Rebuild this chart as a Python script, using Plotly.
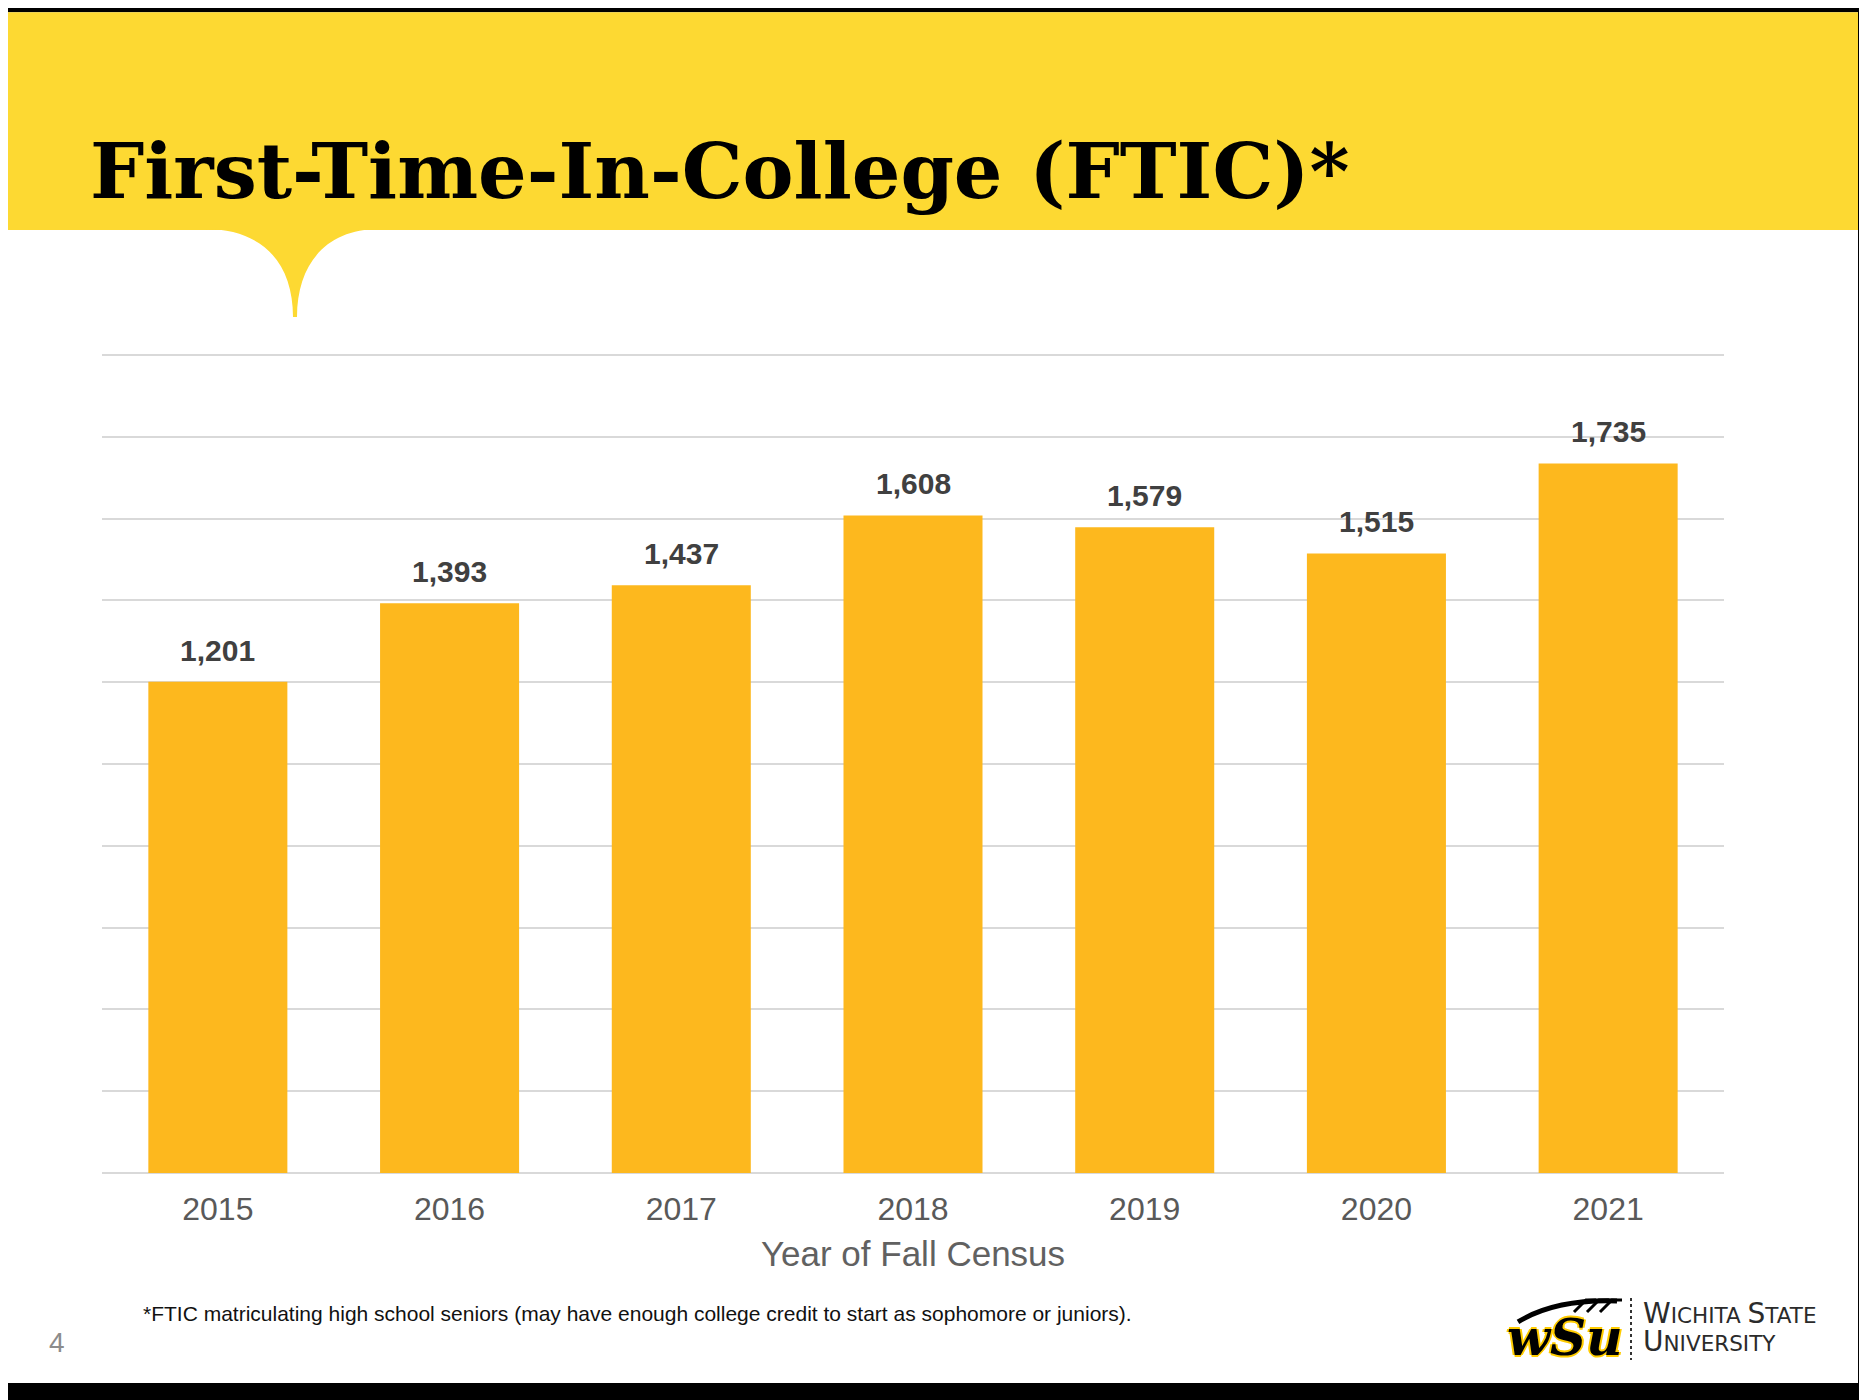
import plotly.graph_objects as go

# ---- data ----
years = ["2015", "2016", "2017", "2018", "2019", "2020", "2021"]
ftic = [1201, 1393, 1437, 1608, 1579, 1515, 1735]
value_labels = ["1,201", "1,393", "1,437", "1,608", "1,579", "1,515", "1,735"]
title_text = "First-Time-In-College (FTIC)*"
x_title = "Year of Fall Census"
footnote = "*FTIC matriculating high school seniors (may have enough college credit to start as sophomore or juniors)."
page_no = "4"

W, H = 1867, 1400
OFF = 8                                # page offset of the figure (body margin)
YMAX = 2010
L, R, B = 102, 1724, 1173              # plot area in page pixels
T = B - (B - 355) * YMAX / 2000


def px(x):
    return (x - L) / (R - L)


def py(y):
    return (B - y) / (B - T)


YELLOW = "#FDD932"
BAR = "#FDB81E"

fig = go.Figure()
fig.add_trace(go.Bar(
    x=list(range(len(years))), y=ftic,
    marker=dict(color=BAR, line=dict(width=0)),
    hovertext=years, hoverinfo="text+y",
))

annotations = []
for i, (v, lab) in enumerate(zip(ftic, value_labels)):
    annotations.append(dict(
        x=i, y=v, xref="x", yref="y", text=lab, showarrow=False,
        yanchor="bottom", yshift=13,
        font=dict(family="Liberation Sans, Arial, sans-serif", size=30, color="#404040", weight="bold"),
    ))

# title
annotations.append(dict(
    x=px(88), y=py(171), xref="paper", yref="paper", text="<b>" + title_text + "</b>",
    showarrow=False, xanchor="left", yanchor="middle",
    font=dict(family="DejaVu Serif, Georgia, serif", size=76.5, color="#000000"),
))
# footnote
annotations.append(dict(
    x=px(141), y=py(1314), xref="paper", yref="paper", text=footnote,
    showarrow=False, xanchor="left", yanchor="middle",
    font=dict(family="Liberation Sans, Arial, sans-serif", size=21, color="#111111"),
))
# page number
annotations.append(dict(
    x=px(57), y=py(1343), xref="paper", yref="paper", text=page_no,
    showarrow=False, xanchor="center", yanchor="middle",
    font=dict(family="Liberation Sans, Arial, sans-serif", size=28, color="#8c8c8c"),
))
# logo wordmark (two lines, small caps)
annotations.append(dict(
    x=px(1641), y=py(1328), xref="paper", yref="paper",
    text=("<span style='font-size:28px'>W</span>ICHITA <span style='font-size:28px'>S</span>TATE<br>"
          "<span style='font-size:28px'>U</span>NIVERSITY"),
    showarrow=False, xanchor="left", yanchor="middle", align="left",
    font=dict(family="DejaVu Sans, sans-serif", size=21.5, color="#2b2b2b"),
))
# logo mark
annotations.append(dict(
    x=px(1565), y=py(1338), xref="paper", yref="paper",
    text="<b><i>wSu</i></b>",
    showarrow=False, xanchor="center", yanchor="middle",
    font=dict(family="DejaVu Serif, serif", size=50, color="#000000",
              shadow="2px 0 0 #FFCC00, -2px 0 0 #FFCC00, 0 2px 0 #FFCC00, 0 -2px 0 #FFCC00"),
))

shapes = [
    # white slide on black frame
    dict(type="rect", xref="paper", yref="paper", x0=px(8), x1=px(1858), y0=py(12), y1=py(1383),
         fillcolor="white", line=dict(width=0), layer="below"),
    # yellow banner
    dict(type="rect", xref="paper", yref="paper", x0=px(8), x1=px(1858), y0=py(12), y1=py(230),
         fillcolor=YELLOW, line=dict(width=0), layer="below"),
    # banner drip
    dict(type="path", xref="paper", yref="paper",
         path=(f"M {px(205)} {py(229)} C {px(262)} {py(229)}, {px(293)} {py(262)}, {px(293)} {py(317)} "
               f"L {px(297)} {py(317)} C {px(297)} {py(262)}, {px(328)} {py(229)}, {px(379)} {py(229)} Z"),
         fillcolor=YELLOW, line=dict(width=0), layer="below"),
    # logo dotted separator
    dict(type="line", xref="paper", yref="paper", x0=px(1631), x1=px(1631), y0=py(1298), y1=py(1360),
         line=dict(color="#333333", width=2, dash="dot")),
    # wheat stalk of logo mark
    dict(type="path", xref="paper", yref="paper",
         path=(f"M {px(1518)} {py(1322)} Q {px(1555)} {py(1299)}, {px(1617)} {py(1301)}"),
         line=dict(color="#000000", width=5)),
]
for i in range(3):
    xx = 1574 + i * 13
    shapes.append(dict(type="path", xref="paper", yref="paper",
                       path=f"M {px(xx)} {py(1312)} L {px(xx + 12)} {py(1300)} L {px(xx + 22)} {py(1300)}",
                       line=dict(color="#000000", width=3)))

fig.update_layout(
    width=W, height=H,
    margin=dict(l=L - OFF, r=W - (R - OFF), t=T - OFF, b=H - (B - OFF), pad=0, autoexpand=False),
    paper_bgcolor="#000000",
    plot_bgcolor="rgba(0,0,0,0)",
    showlegend=False,
    bargap=0.4,
    annotations=annotations,
    shapes=shapes,
    xaxis=dict(
        range=[-0.5, len(years) - 0.5],
        tickmode="array", tickvals=list(range(len(years))), ticktext=years,
        automargin=False,
        showgrid=False, showline=False, zeroline=False, ticks="",
        tickfont=dict(family="Liberation Sans, Arial, sans-serif", size=32, color="#595959"),
        ticklabelstandoff=14,
        title=dict(text=x_title, standoff=15,
                   font=dict(family="Liberation Sans, Arial, sans-serif", size=35, color="#616161")),
    ),
    yaxis=dict(
        range=[0, YMAX], tickmode="linear", tick0=0, dtick=200, showticklabels=False, automargin=False,
        showgrid=True, gridcolor="#D9D9D9", gridwidth=2,
        zeroline=True, zerolinecolor="#D9D9D9", zerolinewidth=2,
        showline=False, ticks="",
    ),
)

fig.write_html("out.html")
